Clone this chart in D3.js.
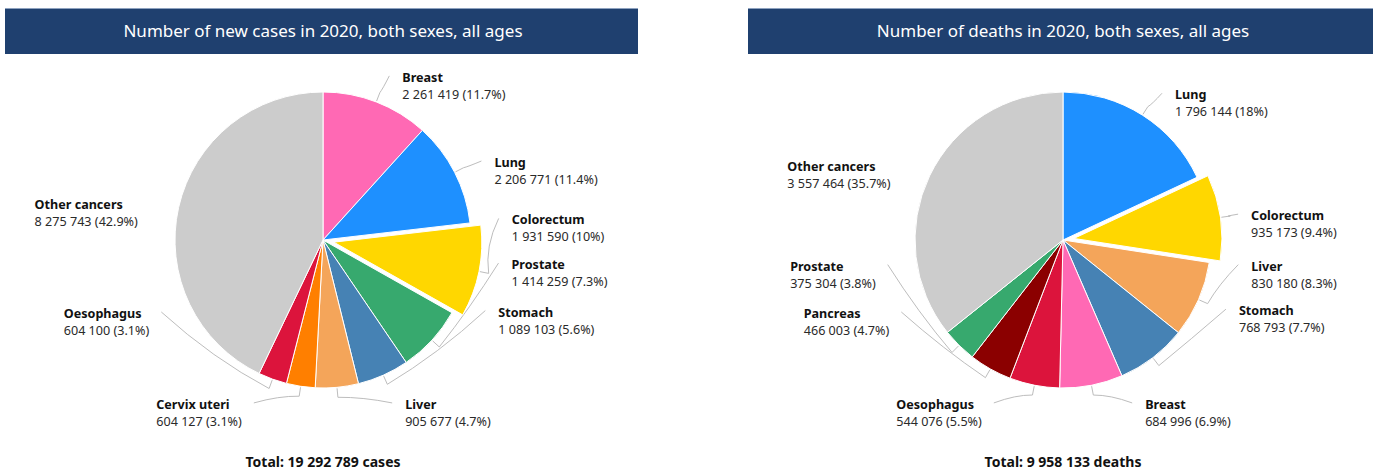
<!DOCTYPE html>
<html>
<head>
<meta charset="utf-8">
<script src="https://cdn.jsdelivr.net/npm/d3@7"></script>
<style>
body { margin: 0; background: #fff; }
svg { display: block; font-family: "Noto Sans", "Open Sans", sans-serif; }
</style>
</head>
<body>
<div class="content"></div>
<script>
// new cases 2020
var caseSites = ['Breast', 'Lung', 'Colorectum', 'Prostate', 'Stomach', 'Liver', 'Cervix uteri', 'Oesophagus', 'Other cancers'];
var caseCounts = [2261419, 2206771, 1931590, 1414259, 1089103, 905677, 604127, 604100, 8275743];

// deaths 2020
var deathSites = ['Lung', 'Colorectum', 'Liver', 'Stomach', 'Breast', 'Oesophagus', 'Pancreas', 'Prostate', 'Other cancers'];
var deathCounts = [1796144, 935173, 830180, 768793, 684996, 544076, 466003, 375304, 3557464];

// where each label sits around the pie (degrees clockwise from top)
var caseLabelAngles = [22, 63.5, 83, 97.5, 113.5, 157, 203, 246, 282];
var deathLabelAngles = [34, 81.6, 98, 113, 157, 203, 246, 262, 295];

var slicedSite = 'Colorectum';

var siteColors = {
    'Breast': '#ff69b4',
    'Lung': '#1e90ff',
    'Colorectum': '#ffd700',
    'Prostate': '#37a96e',
    'Stomach': '#4682b4',
    'Liver': '#f4a55a',
    'Cervix uteri': '#ff7f00',
    'Oesophagus': '#dc143c',
    'Pancreas': '#8b0000',
    'Other cancers': '#cccccc'
};

var chart = {
    width: 1379,
    height: 472,
    radius: 148,
    slicedOffset: 11,
    labelRadius: 177,
    barY: 8,
    barH: 46,
    barColor: '#1f406f',
    lineColor: '#bdbdbd',
    labelSize: '12.6px'
};

var panels = [
    {cx: 323, cy: 240, barX: 5, barW: 633, title: 'Number of new cases in 2020, both sexes, all ages',
        sites: caseSites, counts: caseCounts, labelAngles: caseLabelAngles, unit: 'cases'},
    {cx: 1063, cy: 240, barX: 748, barW: 625, title: 'Number of deaths in 2020, both sexes, all ages',
        sites: deathSites, counts: deathCounts, labelAngles: deathLabelAngles, unit: 'deaths'}
];

var fmt = d3.formatLocale({decimal: '.', thousands: ' ', grouping: [3], currency: ['', '']}).format(',');
function pct(v, total) { return (+(v / total * 100).toFixed(1)) + '%'; }
function polar(a, r) { return [Math.sin(a) * r, -Math.cos(a) * r]; }

var svg = d3.select('.content').append('svg')
    .attr('width', chart.width)
    .attr('height', chart.height);

var pie = d3.pie().sort(null).value(function(d) { return d.count; });
var arc = d3.arc().innerRadius(0).outerRadius(chart.radius);

panels.forEach(function(p) {
    var rows = p.sites.map(function(s, i) { return {site: s, count: p.counts[i], labelAngle: p.labelAngles[i]}; });
    var total = d3.sum(p.counts);

    // title bar
    svg.append('rect')
        .attr('x', p.barX).attr('y', chart.barY)
        .attr('width', p.barW).attr('height', chart.barH)
        .attr('fill', chart.barColor);
    svg.append('rect')
        .attr('x', p.barX).attr('y', chart.barY)
        .attr('width', p.barW).attr('height', 1)
        .attr('fill', '#8ea2bf');
    svg.append('text')
        .attr('x', p.cx).attr('y', chart.barY + chart.barH / 2 + 6)
        .attr('text-anchor', 'middle')
        .attr('fill', '#fff')
        .style('font-size', '17px')
        .text(p.title);

    var g = svg.append('g').attr('transform', 'translate(' + p.cx + ',' + p.cy + ')');
    var arcs = pie(rows);

    // connectors
    arcs.forEach(function(d) {
        if(d.data.site === 'Other cancers')
            return;
        var m = (d.startAngle + d.endAngle) / 2;
        var off = d.data.site === slicedSite ? polar(m, chart.slicedOffset) : [0, 0];
        var la = d.data.labelAngle * Math.PI / 180;
        var p0 = polar(m, chart.radius + 1), p1 = polar(m, chart.radius + 10);
        p0 = [p0[0] + off[0], p0[1] + off[1]];
        p1 = [p1[0] + off[0], p1[1] + off[1]];
        var c = polar((m + la) / 2, chart.radius + 14);
        var e = polar(la, chart.labelRadius);
        g.append('path')
            .attr('d', 'M' + p0 + 'L' + p1 + 'Q' + c + ' ' + e)
            .attr('fill', 'none')
            .attr('stroke', chart.lineColor)
            .attr('stroke-width', 1);
    });

    // slices
    g.selectAll('path.slice').data(arcs).enter().append('path')
        .attr('class', 'slice')
        .attr('d', arc)
        .attr('transform', function(d) {
            if(d.data.site !== slicedSite) return null;
            var o = polar((d.startAngle + d.endAngle) / 2, chart.slicedOffset);
            return 'translate(' + o + ')';
        })
        .attr('fill', function(d) { return siteColors[d.data.site]; })
        .attr('stroke', '#fff')
        .attr('stroke-width', 1);

    // labels
    arcs.forEach(function(d) {
        var la = d.data.labelAngle * Math.PI / 180;
        var e = polar(la, chart.labelRadius);
        var right = e[0] > 0;
        var lg = g.append('g');
        var t1 = lg.append('text')
            .attr('fill', '#111')
            .style('font-size', chart.labelSize)
            .style('font-weight', 'bold')
            .text(d.data.site);
        var t2 = lg.append('text')
            .attr('y', 17)
            .attr('fill', '#2a2a2a')
            .style('font-size', chart.labelSize)
            .text(fmt(d.data.count) + ' (' + pct(d.data.count, total) + ')');
        var w = Math.max(t1.node().getComputedTextLength(), t2.node().getComputedTextLength());
        var x = right ? e[0] + 13 : e[0] - 12 - w;
        lg.attr('transform', 'translate(' + x + ',' + (e[1] + 6) + ')');
    });

    svg.append('text')
        .attr('x', p.cx).attr('y', 467)
        .attr('text-anchor', 'middle')
        .attr('fill', '#111')
        .style('font-size', '14px')
        .style('font-weight', 'bold')
        .text('Total: ' + fmt(total) + ' ' + p.unit);
});
</script>
</body>
</html>
